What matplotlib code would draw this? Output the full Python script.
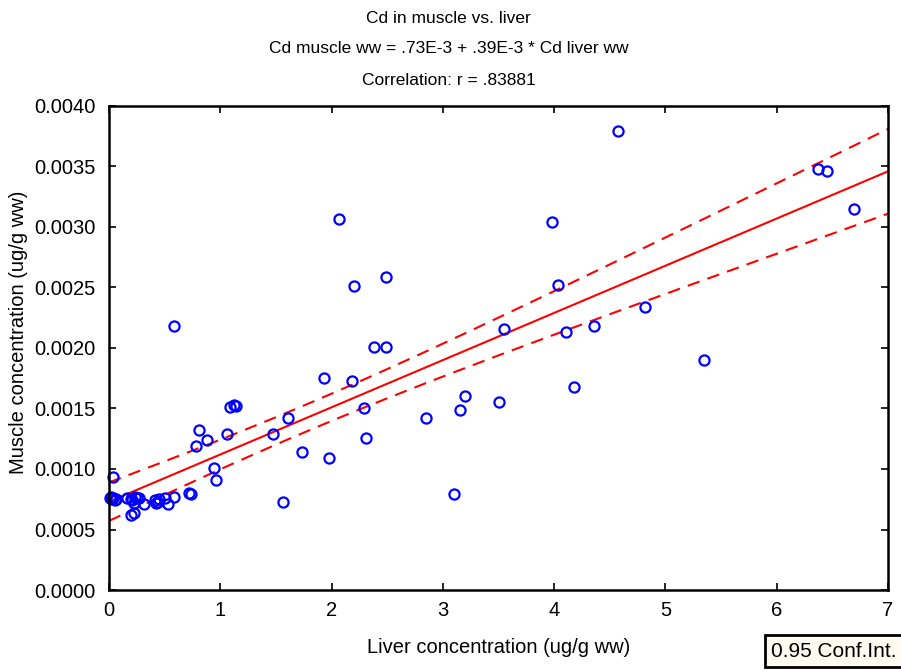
import numpy as np
import matplotlib.pyplot as plt

# Cd in liver (x) and muscle (y), ug/g wet weight
liver = [0.01, 0.02, 0.03, 0.04, 0.05, 0.06, 0.04,
         0.16, 0.20, 0.21, 0.22, 0.23, 0.25, 0.27, 0.20, 0.22, 0.31,
         0.41, 0.42, 0.44, 0.45, 0.50, 0.53, 0.58, 0.72, 0.74, 0.58,
         0.78, 0.81, 0.88, 0.94, 0.96, 1.06, 1.09, 1.12, 1.14,
         1.47, 1.56, 1.61, 1.73, 1.93, 1.98, 2.07, 2.18, 2.20, 2.29, 2.31,
         2.38, 2.49, 2.49, 2.85, 3.10, 3.15, 3.20, 3.50, 3.55,
         3.98, 4.03, 4.11, 4.18, 4.36, 4.57, 4.82, 5.35, 6.37, 6.45, 6.69]
muscle = [0.00076, 0.00077, 0.00075, 0.00076, 0.00074, 0.00075, 0.00093,
          0.00076, 0.00075, 0.00074, 0.00072, 0.00077, 0.00076, 0.00076, 0.00062, 0.00064, 0.00071,
          0.00074, 0.00072, 0.00073, 0.00075, 0.00076, 0.00071, 0.00077, 0.00080, 0.00079, 0.00218,
          0.00119, 0.00132, 0.00124, 0.00101, 0.00091, 0.00129, 0.00151, 0.00153, 0.00152,
          0.00129, 0.00073, 0.00142, 0.00114, 0.00175, 0.00109, 0.00307, 0.00173, 0.00251, 0.00150, 0.00126,
          0.00201, 0.00259, 0.00201, 0.00142, 0.00079, 0.00149, 0.00160, 0.00155, 0.00216,
          0.00304, 0.00252, 0.00213, 0.00168, 0.00218, 0.00379, 0.00234, 0.00190, 0.00348, 0.00346, 0.00315]

intercept = 0.73e-3
slope = 0.39e-3

x_ticks = [0, 1, 2, 3, 4, 5, 6, 7]
y_ticks = [0.0, 0.0005, 0.0010, 0.0015, 0.0020, 0.0025, 0.0030, 0.0035, 0.0040]

plt.rcParams['font.family'] = 'Liberation Sans'

x = np.array(liver)
y = np.array(muscle)
n = len(x)

# 95% confidence band around the fitted line
res = y - (intercept + slope * x)
s = np.sqrt(np.sum(res ** 2) / (n - 2))
xm = x.mean()
sxx = np.sum((x - xm) ** 2)
xg = np.unique(np.concatenate([[0.0], x, [7.0]]))
fit = intercept + slope * xg
half = 1.997 * s * np.sqrt(1.0 / n + (xg - xm) ** 2 / sxx)

fig = plt.figure(figsize=(9.01, 6.70), dpi=100)
ax = fig.add_axes([0.121, 0.1194, 0.8646, 0.7224])

dash = (0, (6, 4))
ax.plot(xg, fit, color='red', lw=1.5)
ax.plot(xg, fit + half, color='red', lw=1.5, ls=dash)
ax.plot(xg, fit - half, color='red', lw=1.5, ls=dash)
ax.plot(x, y, 'o', mfc='none', mec='blue', mew=1.6, ms=7.3, clip_on=False)

ax.set_xlim(0, 7)
ax.set_ylim(0, 0.004)
ax.set_xticks(x_ticks)
ax.set_yticks(y_ticks)
ax.set_xticklabels([str(t) for t in x_ticks])
ax.set_yticklabels(['%.4f' % t for t in y_ticks])
ax.tick_params(direction='in', length=5, width=1.2, top=True, right=True,
               labelsize=14.5)
ax.tick_params(axis='x', pad=8)
ax.tick_params(axis='y', pad=10)
for sp in ax.spines.values():
    sp.set_linewidth(1.8)

ax.set_xlabel('Liver concentration (ug/g ww)', fontsize=14.5, labelpad=13)
ax.set_ylabel('Muscle concentration (ug/g ww)', fontsize=14.5)
ax.yaxis.set_label_coords(-0.104, 0.533)

fig.text(0.498, 0.973, 'Cd in muscle vs. liver', ha='center', va='center', fontsize=12.5)
fig.text(0.498, 0.928, 'Cd muscle ww = .73E-3 + .39E-3 * Cd liver ww', ha='center',
         va='center', fontsize=12.5)
fig.text(0.498, 0.880, 'Correlation: r = .83881', ha='center', va='center', fontsize=12.5)

fig.text(0.856, 0.028, '0.95 Conf.Int.', ha='left', va='center', fontsize=15,
         bbox=dict(boxstyle='square,pad=0.3', fc='#fffbf0', ec='black', lw=2))

fig.savefig('out.png', dpi=100)
